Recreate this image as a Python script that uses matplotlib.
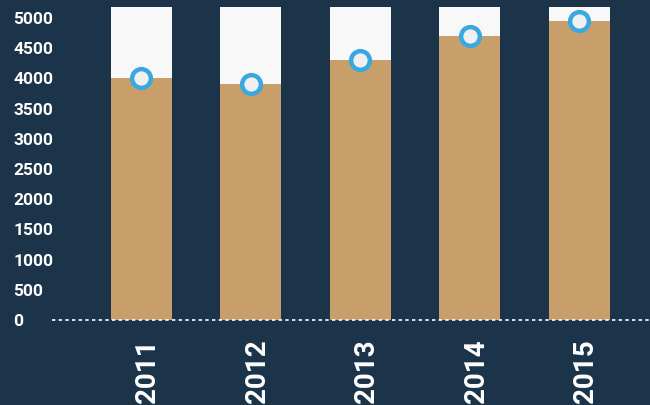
import numpy as np
import matplotlib.pyplot as plt

years = ['2011', '2012', '2013', '2014', '2015']
values = [4000, 3900, 4300, 4700, 4950]
target = 5180
yticks = [0, 500, 1000, 1500, 2000, 2500, 3000, 3500, 4000, 4500, 5000]

bg = '#1b344a'
tan = '#c89f6b'
light = '#f8f8f8'
blue = '#3aa8e0'

plt.rcParams['font.family'] = ['Roboto', 'DejaVu Sans']

fig = plt.figure(figsize=(6.5, 4.05), dpi=100, facecolor=bg)
ax = fig.add_axes([52 / 650, 85 / 405, 598 / 650, 313 / 405])
ax.set_facecolor(bg)

x = np.arange(len(years))
width = 0.557
ax.bar(x, [target] * len(years), width=width, color=light, zorder=1)
ax.bar(x, values, width=width, color=tan, zorder=2)
ax.plot(x, values, 'o', linestyle='none', ms=13.5, mew=3.2,
        mfc='#f0f0f0', mec=blue, zorder=4, clip_on=False)

ax.axhline(0, color='white', lw=1.2, ls=(0, (2, 2)), zorder=3, clip_on=False)

ax.set_xlim(-0.814, 4.647)
ax.set_ylim(0, target)

ax.set_yticks(yticks)
ax.set_yticklabels([str(t) for t in yticks])
ax.tick_params(axis='y', length=0, pad=28, labelsize=12.5, labelcolor='white')
for lab in ax.get_yticklabels():
    lab.set_ha('left')
    lab.set_fontweight('bold')

ax.set_xticks(x + 0.06)
ax.set_xticklabels(years, rotation=90, fontsize=20, fontweight='bold', color='white')
ax.tick_params(axis='x', length=0, pad=14)

for s in ax.spines.values():
    s.set_visible(False)

fig.savefig('out.png', dpi=100, facecolor=bg)
